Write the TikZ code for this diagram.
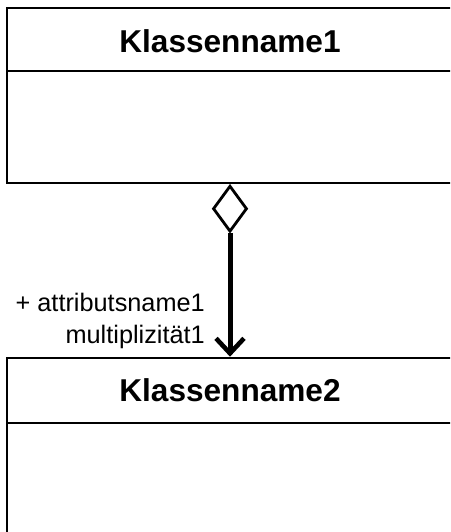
\documentclass[tikz,border=0pt]{standalone}
\usepackage{fontspec}
\setmainfont{Liberation Sans}
\usetikzlibrary{shapes.geometric,arrows.meta}
\begin{document}
\begin{tikzpicture}[x=1pt,y=1pt,
  classbox/.style={draw=black,line width=2.6pt,rectangle,inner sep=0pt,minimum width=446pt},
  divider/.style={draw=black,line width=1.6pt},
  classname/.style={font=\bfseries\fontsize{31.6}{36}\selectfont,inner sep=0pt},
  rolelabel/.style={font=\fontsize{25.3}{30}\selectfont,inner sep=0pt},
  aggdiamond/.style={diamond,draw=black,line width=2.8pt,inner sep=0pt,minimum width=34pt,minimum height=46pt,aspect=0.74},
  assoc/.style={line width=5pt,-{Straight Barb[length=15pt,width=28pt,line width=4.6pt]}}
]
\useasboundingbox (0,0) rectangle (450,-532);
\clip (0,0) rectangle (450,-532);
% class 1
\node[classbox,minimum height=175pt] (k1) at (230,-95.5) {};
\coordinate (k1l) at (7,-71);
\coordinate (k1r) at (453,-71);
\draw[divider] (k1l) -- (k1r);
\node[classname,anchor=base] (k1t) at (230,-52.5) {Klassenname1};
% class 2
\node[classbox,minimum height=190pt] (k2) at (230,-453) {};
\coordinate (k2l) at (7,-423);
\coordinate (k2r) at (453,-423);
\draw[divider] (k2l) -- (k2r);
\node[classname,anchor=base] (k2t) at (230,-401.5) {Klassenname2};
% aggregation
\node[aggdiamond,anchor=north] (dia) at (k1.south) {};
\draw[assoc] (dia.south) -- (k2.north);
% labels
\node[rolelabel,anchor=base east] (lab1) at (205,-311) {+ attributsname1};
\node[rolelabel,anchor=base east] (lab2) at (205,-343) {multiplizität1};
\end{tikzpicture}
\end{document}
